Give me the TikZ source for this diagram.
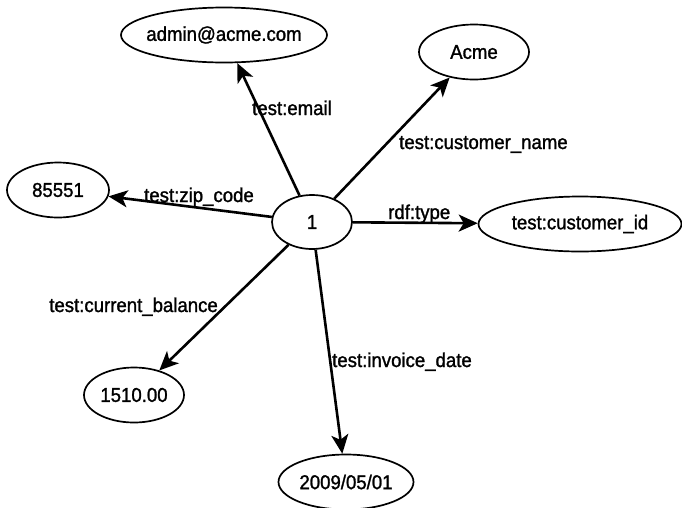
\documentclass[tikz,border=0pt]{standalone}
\usepackage{fontspec}
\newfontfamily\graphfont[FakeStretch=0.93, FakeBold=1.3]{Liberation Sans}
\usetikzlibrary{shapes.geometric,arrows.meta}

\newcommand{\txt}[1]{\makebox[0pt]{#1}}

\tikzset{%
  % Specifications for style of nodes:
         base/.style =  { ellipse, draw = black, line width=1.7pt, inner sep=0pt, minimum height=55pt, font=\graphfont\fontsize{20}{24}\selectfont },
         subj/.style =  { base, minimum width=80pt, minimum height=54pt },
         obj/.style =   { base },
         prop/.style =  { inner sep=0pt, font=\graphfont\fontsize{20}{24}\selectfont },
         link/.style =  { -{Stealth[length=19pt, width=17pt, inset=5pt]}, line width=2.6pt },
}

\begin{document}
\begin{tikzpicture}[x=1pt, y=-1pt]
    \useasboundingbox (0,0) rectangle (682,507);

    % Draw nodes
    \node (one)      [subj]                    at (312,222) {\txt{1}};
    \node (email)    [obj, minimum width=206pt] at (224,35)  {\txt{admin@acme.com}};
    \node (name)     [obj, minimum width=110pt] at (474,52)  {\txt{Acme}};
    \node (zip)      [obj, minimum width=102pt] at (58,190)  {\txt{85551}};
    \node (type)     [obj, minimum width=203pt] at (580,224) {\txt{test:customer\_id}};
    \node (balance)  [obj, minimum width=100pt] at (134,395) {\txt{1510.00}};
    \node (date)     [obj, minimum width=135pt] at (346,482) {\txt{2009/05/01}};

    % Draw arrows
    \draw[link]     (one) -- (email);
    \draw[link]     (one) -- (name);
    \draw[link]     (one) -- (zip);
    \draw[link]     (one) -- (type);
    \draw[link]     (one) -- (balance);
    \draw[link]     (one) -- (date);

    % Draw labels
    \node (l_email)   [prop, anchor=base west] at (252,115) {test:email};
    \node (l_name)    [prop, anchor=base west] at (399,149) {test:customer\_name};
    \node (l_zip)     [prop, anchor=base west] at (144,202) {test:zip\_code};
    \node (l_type)    [prop, anchor=base west] at (388,219) {rdf:type};
    \node (l_balance) [prop, anchor=base east] at (218,312) {test:current\_balance};
    \node (l_date)    [prop, anchor=base west] at (332,367) {test:invoice\_date};
\end{tikzpicture}
\end{document}
